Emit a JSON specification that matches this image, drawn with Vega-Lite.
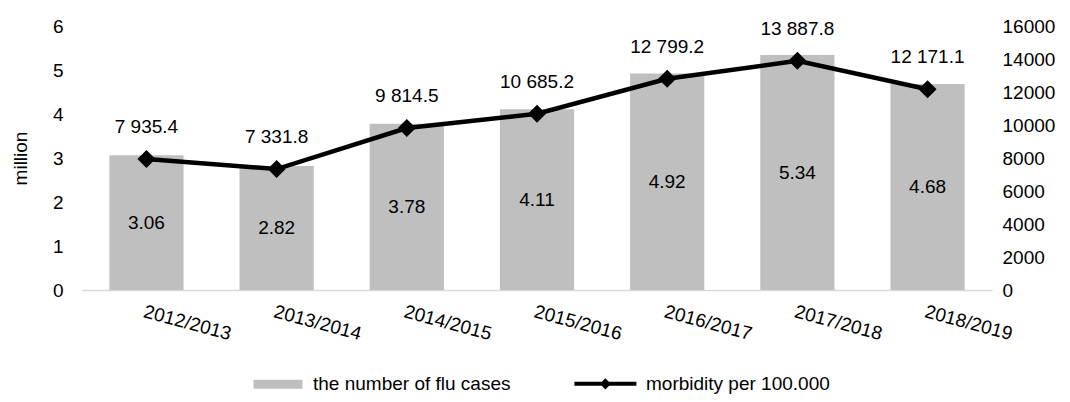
{
  "$schema": "https://vega.github.io/schema/vega-lite/v6.json",
  "width": 910,
  "height": 264,
  "padding": {"left": 82, "top": 26, "right": 78, "bottom": 112},
  "autosize": {"type": "none"},
  "background": "white",
  "config": {
    "view": {"stroke": null},
    "font": "Liberation Sans",
    "locale": {"number": {"decimal": ".", "thousands": " ", "grouping": [3], "currency": ["", ""]}},
    "axis": {"labelFont": "Liberation Sans", "labelFontSize": 19, "labelColor": "#000000", "titleFont": "Liberation Sans", "titleFontSize": 19, "titleFontWeight": "normal", "titleColor": "#000000", "ticks": false, "grid": false, "domain": false, "labelOverlap": false}
  },
  "data": {"values": [
    {"season": "2012/2013", "cases": 3.06, "morbidity": 7935.4},
    {"season": "2013/2014", "cases": 2.82, "morbidity": 7331.8},
    {"season": "2014/2015", "cases": 3.78, "morbidity": 9814.5},
    {"season": "2015/2016", "cases": 4.11, "morbidity": 10685.2},
    {"season": "2016/2017", "cases": 4.92, "morbidity": 12799.2},
    {"season": "2017/2018", "cases": 5.34, "morbidity": 13887.8},
    {"season": "2018/2019", "cases": 4.68, "morbidity": 12171.1}
  ]},
  "encoding": {
    "x": {"field": "season", "type": "nominal", "sort": null,
      "scale": {"paddingInner": 0.43, "paddingOuter": 0.21},
      "axis": {"title": null, "labelAngle": 15, "labelAlign": "left", "labelBaseline": "top", "labelPadding": 12, "domain": true, "domainColor": "#d9d9d9", "domainWidth": 1.5}}
  },
  "layer": [
    {
      "layer": [
        {
          "mark": {"type": "bar", "color": "#bfbfbf"},
          "encoding": {
            "y": {"field": "cases", "type": "quantitative", "scale": {"domain": [0, 6]},
              "axis": {"title": "million", "values": [0, 1, 2, 3, 4, 5, 6], "labelPadding": 19, "titlePadding": 22}},
            "color": {"datum": "the number of flu cases", "type": "nominal",
              "scale": {"domain": ["the number of flu cases", "morbidity per 100.000"], "range": ["#bfbfbf", "#000000"]},
              "legend": {"orient": "none", "legendX": 162, "legendY": 348, "direction": "horizontal", "title": null,
                "symbolSize": 3844, "labelFontSize": 19, "labelFont": "Liberation Sans", "labelColor": "#000000", "labelOffset": 50, "labelLimit": 400, "columnPadding": 55,
                "encode": {"symbols": {"update": {
                  "shape": {"signal": "datum.value === 'morbidity per 100.000' ? 'M-0.39,0H1.61M0.61,-0.09L0.7,0L0.61,0.09L0.52,0Z' : 'M0,-0.145H1.58V0.145H0Z'"},
                  "fill": {"signal": "datum.value === 'morbidity per 100.000' ? '#000000' : '#bfbfbf'"},
                  "stroke": {"signal": "datum.value === 'morbidity per 100.000' ? '#000000' : '#bfbfbf'"},
                  "strokeWidth": {"signal": "datum.value === 'morbidity per 100.000' ? 4 : 0"},
                  "opacity": {"value": 1},
                  "fillOpacity": {"value": 1},
                  "strokeOpacity": {"value": 1}
                }}}}}
          }
        },
        {
          "mark": {"type": "text", "fontSize": 19, "font": "Liberation Sans", "color": "#000000", "baseline": "middle"},
          "encoding": {
            "y": {"field": "cases", "type": "quantitative", "scale": {"domain": [0, 12]}, "axis": null},
            "text": {"field": "cases", "type": "quantitative", "format": ".2f"}
          }
        }
      ],
      "resolve": {"scale": {"y": "independent"}}
    },
    {
      "encoding": {
        "y": {"field": "morbidity", "type": "quantitative", "scale": {"domain": [0, 16000], "nice": false},
          "axis": {"orient": "right", "title": null, "values": [0, 2000, 4000, 6000, 8000, 10000, 12000, 14000, 16000], "format": "d", "labelPadding": 10, "labelOverlap": false, "labelSeparation": 0}}
      },
      "layer": [
        {
          "mark": {"type": "line", "strokeWidth": 4.5},
          "encoding": {
            "color": {"datum": "morbidity per 100.000", "type": "nominal"}
          }
        },
        {
          "mark": {"type": "point", "shape": "diamond", "size": 324, "filled": true, "color": "#000000", "opacity": 1}
        },
        {
          "mark": {"type": "text", "fontSize": 19, "font": "Liberation Sans", "color": "#000000", "baseline": "middle", "dy": -32},
          "encoding": {
            "text": {"field": "morbidity", "type": "quantitative", "format": ",.1f"}
          }
        }
      ]
    }
  ],
  "resolve": {"scale": {"y": "independent"}}
}
